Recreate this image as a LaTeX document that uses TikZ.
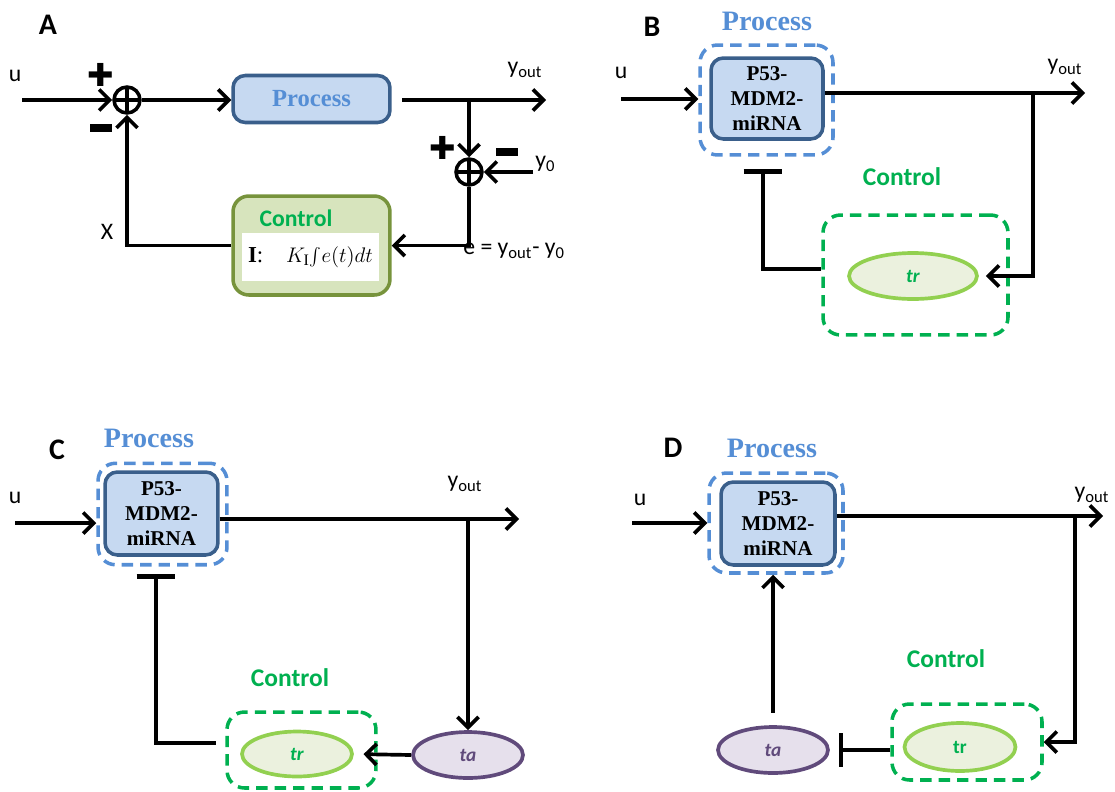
\documentclass[tikz,border=0pt]{standalone}
\usepackage{fontspec}
\setmainfont{Liberation Serif}
\setsansfont{Carlito}
\newfontfamily\signfont{DejaVu Sans}
\usetikzlibrary{arrows.meta,shapes.geometric}
\definecolor{procfill}{HTML}{C6D9F1}
\definecolor{procedge}{HTML}{3A5F8B}
\definecolor{proctext}{HTML}{558ED5}
\definecolor{ctrlgreen}{HTML}{00B050}
\definecolor{ctrlfill}{HTML}{D7E4BD}
\definecolor{ctrledge}{HTML}{77933C}
\definecolor{trfill}{HTML}{EBF1DE}
\definecolor{tredge}{HTML}{92D050}
\definecolor{tafill}{HTML}{E6E0EC}
\definecolor{taedge}{HTML}{604A7B}
\tikzset{
WIRE/.style ={draw=black,line width=2.1pt,>={Straight Barb[length=6pt,width=12pt]}},
INH/.style ={draw=black,line width=2.1pt,-{Bar[width=#1,line width=2.6pt]}},
INH/.default = 22pt,
SUM/.style ={circle,draw=black,line width=2pt,minimum size=0.52cm,inner sep=0pt,
  path picture={\draw[line width=1.8pt] (path picture bounding box.north) -- (path picture bounding box.south)
  (path picture bounding box.west) -- (path picture bounding box.east);}},
SIGN/.style ={inner sep=0pt,font=\signfont\bfseries\fontsize{18}{18}\selectfont},
MINUS/.style ={inner sep=0pt,fill=black,minimum width=13pt,minimum height=4.5pt},
PANEL/.style ={font=\sffamily\bfseries\fontsize{17}{17}\selectfont},
SIG/.style ={inner sep=0pt,font=\sffamily\fontsize{13.5}{13.5}\selectfont},
PROC/.style ={draw=procedge,fill=procfill,line width=2pt,rounded corners=7pt,align=center,
  font=\bfseries\fontsize{12}{14.5}\selectfont},
PROCLAB/.style ={text=proctext,font=\bfseries\fontsize{16}{16}\selectfont},
DASHPROC/.style ={draw=proctext,line width=2pt,dash pattern=on 6.5pt off 4pt,rounded corners=10pt},
DASHCTRL/.style ={draw=ctrlgreen,line width=2pt,dash pattern=on 6.5pt off 4pt,rounded corners=10pt},
CTRLLAB/.style ={text=ctrlgreen,font=\sffamily\bfseries\fontsize{14.5}{14.5}\selectfont},
TR/.style ={ellipse,draw=tredge,fill=trfill,line width=2.1pt,inner sep=0pt,text=ctrlgreen,
  font=\sffamily\bfseries\fontsize{11}{11}\selectfont},
TA/.style ={ellipse,draw=taedge,fill=tafill,line width=2.1pt,inner sep=0pt,text=taedge,
  font=\sffamily\bfseries\fontsize{11}{11}\selectfont},
}
\begin{document}
\begin{tikzpicture}[x=0.02cm,y=-0.02cm]
\useasboundingbox (0,0) rectangle (1115,791);
% A: integral feedback
\node[PANEL] (labA) at (48,25) {A};
\node[SIG] (uA) at (15,76) {u};
\coordinate (inA) at (22,100);
\node[SUM] (sumA) at (127,100) {};
\node[SIGN] (plusA) at (101,75) {✚};
\node[MINUS] (minusA) at (101,128) {};
\node[draw=procedge,fill=procfill,line width=2pt,rounded corners=7pt,minimum width=3.14cm,minimum height=0.94cm,
  text=proctext,font=\bfseries\fontsize{14}{14}\selectfont] (procA) at (311.5,99) {Process};
\coordinate (brA) at (469,100);
\coordinate (yA) at (546,100);
\node[SIG] (youtA) at (525,70) {y\textsubscript{out}};
\node[SUM] (sumB) at (469,172) {};
\node[SIGN] (plusB) at (443,148) {✚};
\node[MINUS] (minusB) at (507,152) {};
\node[SIG,anchor=west] (y0A) at (535,164) {y\textsubscript{0}};
\coordinate (refA) at (533,172);
\node[draw=ctrledge,fill=ctrlfill,line width=2pt,rounded corners=9pt,minimum width=3.14cm,minimum height=1.98cm] (ctrlA) at (311.5,245.5) {};
\node[text=ctrlgreen,font=\sffamily\bfseries\fontsize{13.5}{13.5}\selectfont] (clabA) at (296,218) {Control};
\node[fill=white,minimum width=2.62cm,minimum height=0.96cm,font=\fontsize{13}{13}\selectfont] (lawA) at (310.5,257)
  {\textbf{I}:\quad $K_{\mathrm{I}}\!\int\! e(t)dt$};
\node[SIG,anchor=west] (errA) at (463,251) {e = y\textsubscript{out}- y\textsubscript{0}};
\node[SIG] (xA) at (107,232) {X};
\draw[WIRE,->] (inA) -- (sumA.west);
\draw[WIRE,->] (sumA.east) -- (sumA.east -| procA.west);
\draw[WIRE,->,shorten <=6pt] (procA.east |- brA) -- (yA);
\draw[WIRE,->] (brA) -- (sumB.north);
\draw[WIRE,->] (refA) -- (sumB.east);
\draw[WIRE,->] (sumB.south) |- (ctrlA.east);
\draw[WIRE,->] (ctrlA.west) -| (sumA.south);

% B: repression
\node[PANEL] (labB) at (652,27) {B};
\node[PROCLAB] (plabB) at (767,21) {Process};
\node[DASHPROC,minimum width=2.66cm,minimum height=2.2cm] (dashB) at (766.5,100) {};
\node[PROC,minimum width=2.24cm,minimum height=1.62cm] (procB) at (767,98.5) {P53-\\MDM2-\\miRNA};
\node[SIG] (uB) at (621,73) {u};
\coordinate (inB) at (621,99);
\coordinate (brB) at (1033,93);
\coordinate (yB) at (1085,93);
\node[SIG] (youtB) at (1065,67) {y\textsubscript{out}};
\node[CTRLLAB] (clabB) at (902,177) {Control};
\node[DASHCTRL,minimum width=3.7cm,minimum height=2.4cm] (ctrlB) at (915.5,275) {};
\node[TR,minimum width=2.56cm,minimum height=0.92cm] (trB) at (913,276) {\textit{tr}};
\coordinate (barB) at (763,169);
\draw[WIRE,->] (inB) -- (inB -| dashB.west);
\draw[WIRE,->] (procB.east |- brB) -- (yB);
\draw[WIRE,->,shorten >=4pt] (brB) |- (trB.east);
\draw[INH] ([yshift=3.4pt]ctrlB.west) -| (barB);

% C: activator, repressor
\node[PANEL] (labC) at (57,450) {C};
\node[PROCLAB] (plabC) at (149,438) {Process};
\node[DASHPROC,minimum width=2.58cm,minimum height=2.03cm] (dashC) at (162.5,514) {};
\node[PROC,minimum width=2.26cm,minimum height=1.66cm] (procC) at (161.5,513.5) {P53-\\MDM2-\\miRNA};
\node[SIG] (uC) at (15,498) {u};
\coordinate (inC) at (15,523);
\coordinate (brC) at (468,519);
\coordinate (yC) at (519,519);
\node[SIG] (youtC) at (465,484) {y\textsubscript{out}};
\node[CTRLLAB] (clabC) at (290,678) {Control};
\node[DASHCTRL,minimum width=2.98cm,minimum height=1.52cm] (ctrlC) at (301.5,750) {};
\node[TR,minimum width=2.2cm,minimum height=0.9cm] (trC) at (297,754) {\textit{tr}};
\node[TA,minimum width=2.2cm,minimum height=0.92cm] (taC) at (468,755) {\textit{ta}};
\coordinate (barC) at (156,574);
\draw[WIRE,->] (inC) -- (inC -| dashC.west);
\draw[WIRE,->] (procC.east |- brC) -- (yC);
\draw[WIRE,->] (brC) -- (taC.north);
\draw[WIRE,->,shorten >=5.5pt] (taC.west) -- (trC.east);
\draw[INH,shorten <=5.5pt] ([yshift=4pt]ctrlC.west) -| (barC);

% D: repressor, activator
\node[PANEL] (labD) at (673,448) {D};
\node[PROCLAB] (plabD) at (772,448) {Process};
\node[DASHPROC,minimum width=2.68cm,minimum height=2.0cm] (dashD) at (776,523) {};
\node[PROC,minimum width=2.28cm,minimum height=1.66cm] (procD) at (778,523.5) {P53-\\MDM2-\\miRNA};
\node[SIG] (uD) at (640,500) {u};
\coordinate (inD) at (632,523);
\coordinate (brD) at (1075,516);
\coordinate (yD) at (1103,516);
\node[SIG] (youtD) at (1092,495) {y\textsubscript{out}};
\node[CTRLLAB] (clabD) at (946,659) {Control};
\node[DASHCTRL,minimum width=3.0cm,minimum height=1.52cm] (ctrlD) at (967,742) {};
\node[TR,minimum width=2.22cm,minimum height=0.96cm] (trD) at (960,747) {tr};
\node[TA,minimum width=2.2cm,minimum height=0.92cm] (taD) at (773,750) {\textit{ta}};
\draw[WIRE,->] (inD) -- (inD -| dashD.west);
\draw[WIRE,->] (procD.east |- brD) -- (yD);
\draw[WIRE,->] (brD) |- (ctrlD.east);
\draw[INH=19pt,shorten >=5pt] (ctrlD.west |- taD.east) -- (taD.east);
\draw[WIRE,->,shorten <=7pt] (taD.north) -- (taD.north |- dashD.south);
\end{tikzpicture}
\end{document}
